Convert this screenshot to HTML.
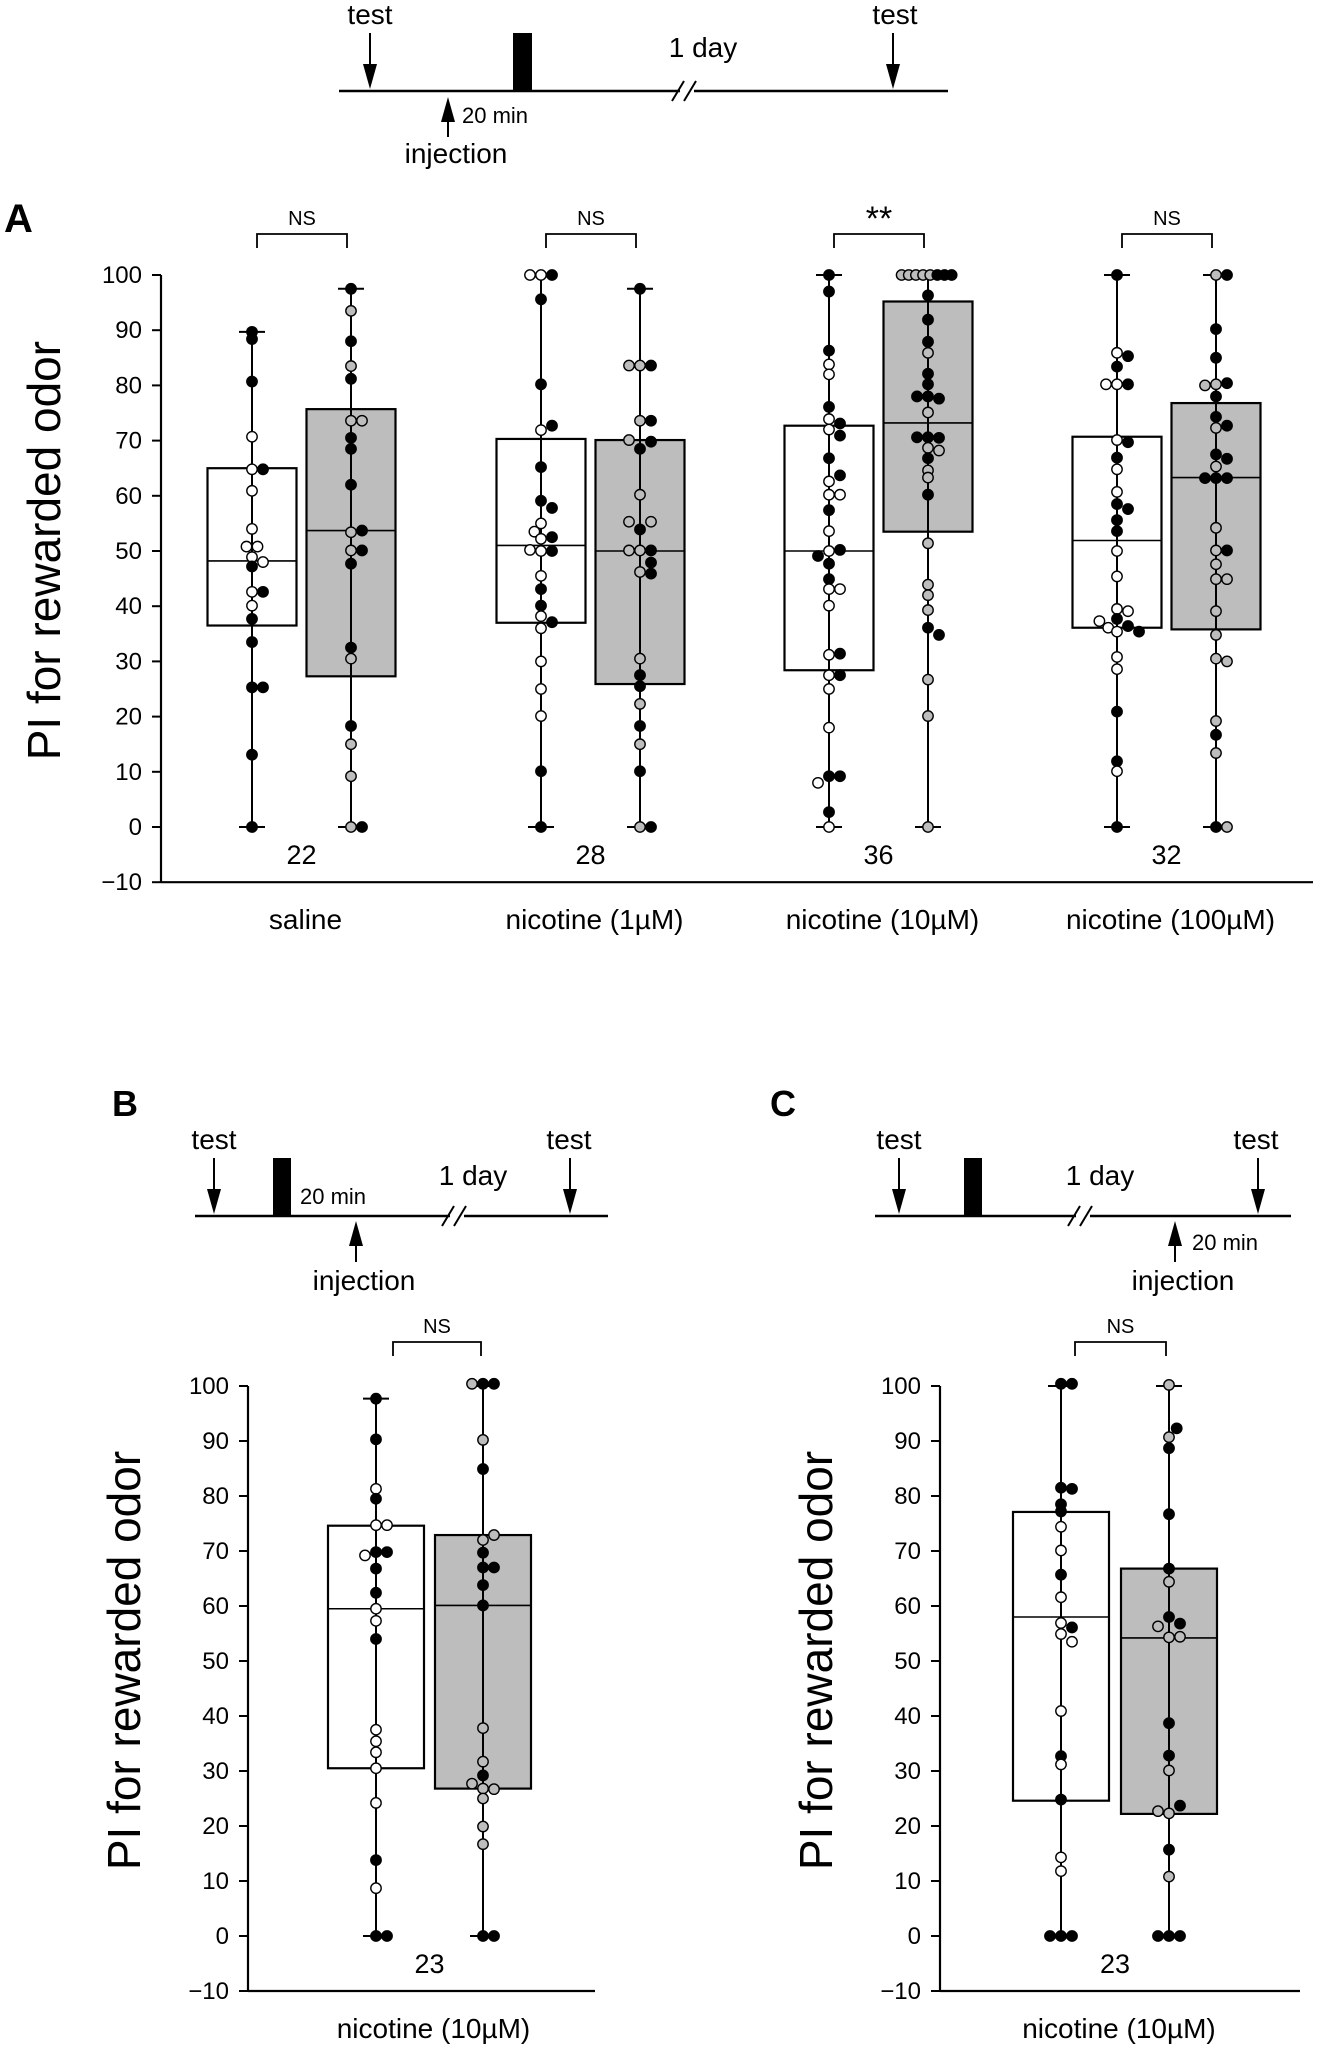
<!DOCTYPE html>
<html><head><meta charset="utf-8">
<style>
html,body{margin:0;padding:0;background:#fff;}
svg{display:block;font-family:"Liberation Sans",Arial,sans-serif;}
</style></head>
<body>
<svg id="fig" width="1336" height="2051" viewBox="0 0 1336 2051" xmlns="http://www.w3.org/2000/svg">
<!-- Top timeline (panel A protocol) -->
<g stroke="#000" fill="#000">
<line x1="339" y1="91" x2="948" y2="91" stroke-width="2.5"/>
<rect x="513" y="33" width="19" height="58" stroke="none"/>
<line x1="370" y1="33" x2="370" y2="70" stroke-width="2"/>
<polygon points="363,64 377,64 370,89" stroke="none"/>
<line x1="893" y1="33" x2="893" y2="70" stroke-width="2"/>
<polygon points="886,64 900,64 893,89" stroke="none"/>
<line x1="448" y1="118" x2="448" y2="137" stroke-width="2"/>
<polygon points="441,122 455,122 448,97" stroke="none"/>
<rect x="680" y="82" width="14" height="18" fill="#fff" stroke="none"/>
<line x1="672" y1="101" x2="684" y2="81" stroke-width="2"/>
<line x1="684" y1="101" x2="696" y2="81" stroke-width="2"/>
</g>
<text x="370" y="24" font-size="28" text-anchor="middle">test</text>
<text x="895" y="24" font-size="28" text-anchor="middle">test</text>
<text x="703" y="57" font-size="28" text-anchor="middle">1 day</text>
<text x="462" y="123" font-size="22">20 min</text>
<text x="456" y="163" font-size="28" text-anchor="middle">injection</text>

<text x="4" y="232" font-size="40" font-weight="bold">A</text>

<!-- Panel B timeline -->
<text x="112" y="1116" font-size="36" font-weight="bold">B</text>
<g stroke="#000" fill="#000">
<g transform="translate(0,-10)">
<line x1="195" y1="1226" x2="608" y2="1226" stroke-width="2.5"/>
<rect x="273" y="1168" width="18" height="58" stroke="none"/>
<line x1="214" y1="1168" x2="214" y2="1205" stroke-width="2"/>
<polygon points="207,1199 221,1199 214,1224" stroke="none"/>
<line x1="570" y1="1168" x2="570" y2="1205" stroke-width="2"/>
<polygon points="563,1199 577,1199 570,1224" stroke="none"/>
<line x1="356" y1="1252" x2="356" y2="1272" stroke-width="2"/>
<polygon points="349,1256 363,1256 356,1231" stroke="none"/>
<rect x="450" y="1217" width="14" height="18" fill="#fff" stroke="none"/>
<line x1="442" y1="1236" x2="454" y2="1216" stroke-width="2"/>
<line x1="454" y1="1236" x2="466" y2="1216" stroke-width="2"/>
</g>
</g>
<g transform="translate(0,-10)">
<text x="214" y="1159" font-size="28" text-anchor="middle">test</text>
<text x="569" y="1159" font-size="28" text-anchor="middle">test</text>
<text x="473" y="1195" font-size="28" text-anchor="middle">1 day</text>
<text x="300" y="1214" font-size="22">20 min</text>
<text x="364" y="1300" font-size="28" text-anchor="middle">injection</text>
</g>

<!-- Panel C timeline -->
<text x="770" y="1116" font-size="36" font-weight="bold">C</text>
<g transform="translate(-9,-10)">
<g stroke="#000" fill="#000">
<line x1="884" y1="1226" x2="1300" y2="1226" stroke-width="2.5"/>
<rect x="973" y="1168" width="18" height="58" stroke="none"/>
<line x1="908" y1="1168" x2="908" y2="1205" stroke-width="2"/>
<polygon points="901,1199 915,1199 908,1224" stroke="none"/>
<line x1="1267" y1="1168" x2="1267" y2="1205" stroke-width="2"/>
<polygon points="1260,1199 1274,1199 1267,1224" stroke="none"/>
<line x1="1184" y1="1252" x2="1184" y2="1272" stroke-width="2"/>
<polygon points="1177,1256 1191,1256 1184,1231" stroke="none"/>
<rect x="1085" y="1217" width="14" height="18" fill="#fff" stroke="none"/>
<line x1="1077" y1="1236" x2="1089" y2="1216" stroke-width="2"/>
<line x1="1089" y1="1236" x2="1101" y2="1216" stroke-width="2"/>
</g>
<text x="908" y="1159" font-size="28" text-anchor="middle">test</text>
<text x="1265" y="1159" font-size="28" text-anchor="middle">test</text>
<text x="1109" y="1195" font-size="28" text-anchor="middle">1 day</text>
<text x="1201" y="1260" font-size="22">20 min</text>
<text x="1192" y="1300" font-size="28" text-anchor="middle">injection</text>
</g>

<g id="charts"></g>
</svg>
<script>
// ---- data ----
const yTicks = [100,90,80,70,60,50,40,30,20,10,0,-10];
const tickLabels = ["100","90","80","70","60","50","40","30","20","10","0","\u221210"];
const catA = ["saline","nicotine (1\u00b5M)","nicotine (10\u00b5M)","nicotine (100\u00b5M)"];
const catB = ["nicotine (10\u00b5M)"];
const catC = ["nicotine (10\u00b5M)"];
const nA = ["22","28","36","32"];
const nB = ["23"];
const nC = ["23"];
const sigA = ["NS","NS","**","NS"];
const sigB = ["NS"];
const sigC = ["NS"];
// boxes: A-saline(w,g), A-1uM(w,g), A-10uM(w,g), A-100uM(w,g), B(w,g), C(w,g)
const boxLow  = [0,0,0,0,0,0,0,0,0,0,0,0];
const boxHigh = [89.7,97.5,100,97.5,100,100,100,100,97.7,100,100,100];
const boxQ1   = [36.5,27.3,37,25.9,28.4,53.5,36.1,35.8,30.5,26.8,24.6,22.2];
const boxMed  = [48.2,53.7,51,50,50,73.2,51.9,63.3,59.5,60.1,58,54.2];
const boxQ3   = [65,75.7,70.3,70.1,72.7,95.2,70.7,76.8,74.6,72.9,77.1,66.8];
const vals0 = [89.7,88.4,80.7,70.7,64.8,64.8,60.9,54,50.8,50.8,48.9,48,47.2,42.6,42.6,40.1,37.7,33.5,25.3,25.3,13.1,0];
const cols0 = "bbbwwbwwwwwwbwbwbbbbbb";
const dodg0 = [0,0,0,0,0,1,0,0,-0.5,0.5,0,1,0,0,1,0,0,0,0,1,0,0];
const vals1 = [97.5,93.5,88,83.5,81.2,73.6,73.6,70.5,68.5,62,53.4,53.7,50.1,50.1,47.7,32.5,30.5,18.3,15,9.2,0,0];
const cols1 = "bgbgbggbbbgbgbbbgbgggb";
const dodg1 = [0,0,0,0,0,0,1,0,0,0,0,1,0,1,0,0,0,0,0,0,0,1];
const vals2 = [100,100,100,95.6,80.2,71.9,72.7,65.2,59.1,57.8,55,53.5,52.5,52.2,50.2,50,50,45.5,43.1,40.1,38.2,37.1,36,30,25,20.1,10.1,0];
const cols2 = "wwbbbwbbbbwwbwwwbwbbwbwwwwbb";
const dodg2 = [-1,0,1,0,0,0,1,0,0,1,0,-0.6,1,0,-1,0,1,0,0,0,0,1,0,0,0,0,0,0];
const vals3 = [97.5,83.6,83.6,83.6,73.6,73.6,70.1,69.8,68.5,60.2,55.3,55.3,53.9,50.1,50.1,50.1,47.9,46.2,45.9,30.5,27.5,25.5,22.3,18.3,15,10.1,0,0];
const cols3 = "bggbgbgbbgggbggbbgbgbbgbgbgb";
const dodg3 = [0,-1,0,1,0,1,-1,1,0,0,-1,1,0,-1,0,1,1,0,1,0,0,0,0,0,0,0,0,1];
const vals4 = [100,97,86.3,83.8,82,76.1,73.9,73.1,72,70.9,66.8,63.7,62.6,60.2,60.2,57.4,53.6,50.2,50,49.1,47.7,44.9,43.1,43.1,40.1,31.2,31.4,27.5,27.5,25,18,9.2,9.2,8,2.7,0];
const cols4 = "bbbwwbwbwbbbwwwbwbwbbbwwwwbwbwwbbwbw";
const dodg4 = [0,0,0,0,0,0,0,1,0,1,0,1,0,0,1,0,0,1,0,-1,0,0,0,1,0,0,1,0,1,0,0,0,1,-1,0,0];
const vals5 = [100,100,100,100,100,100,100,100,96.3,91.9,87.9,85.9,82.1,80.2,78,78,77.6,75.1,70.6,70.6,70.5,68.7,68.2,66.8,64.6,63.3,60.2,51.4,43.9,42,39.3,36.1,34.8,26.7,20.1,0];
const cols5 = "gggggbbbbbbgbbbbbgbbbggbggbggggbbggg";
const dodg5 = [-2.4,-1.75,-1.1,-0.45,0.2,0.85,1.5,2.15,0,0,0,0,0,0,-1,0,1,0,-1,0,1,0,1,0,0,0,0,0,0,0,0,0,1,0,0,0];
const vals6 = [100,85.9,85.3,83.4,80.2,80.2,80.2,70.1,69.7,66.9,64.8,60.7,58.5,57.6,55.6,53.6,50,45.4,39.5,39.1,37.3,37.7,36.1,36.4,35.4,35.4,30.8,28.6,20.9,11.9,10.1,0];
const cols6 = "bwbbwwbwbbwwbbbbwwwwwbwbwbwwbbwb";
const dodg6 = [0,0,1,0,-1,0,1,0,1,0,0,0,0,1,0,0,0,0,0,1,-1.6,0,-0.8,1,0,2,0,0,0,0,0,0];
const vals7 = [100,100,90.2,85,80,80.2,80.4,78,74.3,72.3,72.7,67.5,66.7,65.3,63.2,63.2,63.2,54.2,50.1,50.1,47.6,44.9,44.9,39.1,34.8,30.5,30,19.2,16.7,13.4,0,0];
const cols7 = "gbbbggbbbgbbbgbbbggbggggggggbgbg";
const dodg7 = [0,1,0,0,-1,0,1,0,0,0,1,0,1,0,-1,0,1,0,0,1,0,0,1,0,0,0,1,0,0,0,0,1];
const vals8 = [97.7,90.3,81.3,79.5,74.7,74.7,69.8,69.8,69.2,66.8,62.4,59.5,57.3,54,37.5,35.4,33.4,30.5,24.2,13.8,8.7,0,0];
const cols8 = "bbwbwwbbwbbwwbwwwwwbwbb";
const dodg8 = [0,0,0,0,0,1,0,1,-1,0,0,0,0,0,0,0,0,0,0,0,0,0,1];
const vals9 = [100.4,100.4,100.4,90.2,84.9,72,72.9,69.7,67,67,63.8,60.1,37.8,31.7,29.2,27.7,26.8,26.7,25,19.9,16.7,0,0];
const cols9 = "gbbgbggbbbbbggbggggggbb";
const dodg9 = [-1,0,1,0,0,0,1,0,0,1,0,0,0,0,0,-1,0,1,0,0,0,0,1];
const vals10 = [100.4,100.4,81.5,81.3,78.5,77.2,74.4,70.1,65.7,61.6,56.9,56.1,54.9,53.5,40.9,32.7,31.2,24.8,14.3,11.8,0,0,0];
const cols10 = "bbbbbbwwbwwbwwwbwbwwbbb";
const dodg10 = [0,1,0,1,0,0,0,0,0,0,0,1,0,1,0,0,0,0,0,0,-1,0,1];
const vals11 = [100.2,92.3,90.7,88.7,76.7,66.8,64.4,58,56.8,56.3,54.3,54.4,38.7,32.8,30.1,23.7,22.7,22.3,15.7,10.8,0,0,0];
const cols11 = "gbgbbbgbbgggbbgbggbgbbb";
const dodg11 = [0,0.7,0,0,0,0,0,0,1,-1,0,1,0,0,0,1,-1,0,0,0,-1,0,1];

// ---- layout (not data) ----
const allVals = [vals0,vals1,vals2,vals3,vals4,vals5,vals6,vals7,vals8,vals9,vals10,vals11];
const allCols = [cols0,cols1,cols2,cols3,cols4,cols5,cols6,cols7,cols8,cols9,cols10,cols11];
const allDodg = [dodg0,dodg1,dodg2,dodg3,dodg4,dodg5,dodg6,dodg7,dodg8,dodg9,dodg10,dodg11];
const panels = [
  {id:'a', axisX:161, y0:827, unit:5.52, xEnd:1313, titleX:44, cats:catA, ns:nA, sig:sigA, centers:[252,541,829,1117], half:44.5, bl:5, br:-4},
  {id:'b', axisX:248, y0:1936, unit:5.5, xEnd:595, titleX:124, cats:catB, ns:nB, sig:sigB, centers:[376], half:48, bl:17, br:-2},
  {id:'c', axisX:940, y0:1936, unit:5.5, xEnd:1300, titleX:816, cats:catC, ns:nC, sig:sigC, centers:[1061], half:48, bl:14, br:-3}
];
const gap = [99,107,108];
const NS = 'http://www.w3.org/2000/svg';
const root = document.getElementById('charts');
function mk(tag, attrs, parent){ const e=document.createElementNS(NS,tag); for(const k in attrs) e.setAttribute(k,attrs[k]); (parent||root).appendChild(e); return e; }
const fills = {b:'#000', w:'#fff', g:'#bdbdbd'};
let boxIdx = 0;
panels.forEach((p, pi) => {
  const y = v => p.y0 - v * p.unit;
  const g = mk('g', {});
  
  
  const ax = mk('line', {x1:p.axisX, y1:y(100), x2:p.axisX, y2:y(-10), stroke:'#000','stroke-width':2.2}, g);
  
  
  const bx = mk('line', {x1:p.axisX, y1:y(-10), x2:p.xEnd, y2:y(-10), stroke:'#000','stroke-width':2.2}, g);
  
  
  yTicks.forEach((t, i) => {
    mk('line', {x1:p.axisX-9, y1:y(t), x2:p.axisX, y2:y(t), stroke:'#000','stroke-width':2}, g);
    const tl = mk('text', {x:p.axisX-19, y:y(t)+8, 'font-size':24, 'text-anchor':'end'}, g);
    tl.textContent = tickLabels[i];
    
    
  });
  const cy = (y(100)+y(-10))/2 - 28;
  const tt = mk('text', {x:p.titleX, y:cy, 'font-size':46, 'text-anchor':'middle', transform:'rotate(-90 '+p.titleX+' '+cy+')', dy:'16'}, g);
  tt.textContent = 'PI for rewarded odor';
  
  
  p.centers.forEach((cw, ci) => {
    const cg = cw + gap[pi];
    [cw, cg].forEach((cx, k) => {
      const b = boxIdx++;
      const bg = mk('g', {}, g);
      
      
      mk('line', {x1:cx, y1:y(boxHigh[b]), x2:cx, y2:y(boxLow[b]), stroke:'#000','stroke-width':2}, bg);
      mk('line', {x1:cx-13, y1:y(boxHigh[b]), x2:cx+13, y2:y(boxHigh[b]), stroke:'#000','stroke-width':2}, bg);
      mk('line', {x1:cx-13, y1:y(boxLow[b]), x2:cx+13, y2:y(boxLow[b]), stroke:'#000','stroke-width':2}, bg);
      mk('rect', {x:cx-p.half, y:y(boxQ3[b]), width:2*p.half, height:y(boxQ1[b])-y(boxQ3[b]), fill:k?'#bdbdbd':'#fff', stroke:'#000','stroke-width':2.2}, bg);
      mk('line', {x1:cx-p.half, y1:y(boxMed[b]), x2:cx+p.half, y2:y(boxMed[b]), stroke:'#000','stroke-width':1.6}, bg);
      mk('line', {x1:cx, y1:y(boxQ3[b]), x2:cx, y2:y(boxQ1[b]), stroke:'#000','stroke-width':2}, bg);
      allVals[b].forEach((v, j) => {
        const c = mk('circle', {cx:cx + (allDodg[b][j]||0)*11, cy:y(v), r:5.2, fill:fills[allCols[b][j]]||'#000', stroke:'#000','stroke-width':1.4}, bg);
        
        
      });
    });
    const mid = (cw + cg)/2;
    const lab = mk('text', {x:mid+4, y:y(-10)+47, 'font-size':28, 'text-anchor':'middle'}, g);
    lab.textContent = p.cats[ci];
    
    
    const nl = mk('text', {x:mid, y:y(0)+37, 'font-size':27, 'text-anchor':'middle'}, g);
    nl.textContent = p.ns[ci];
    
    
    const by = p.id==='a' ? 234 : 1342;
    const br = mk('path', {d:'M'+(cw+p.bl)+' '+(by+14)+' V'+by+' H'+(cg+p.br)+' V'+(by+14), fill:'none', stroke:'#000','stroke-width':1.8}, g);
    
    
    const s = p.sig[ci];
    const bm = (cw+p.bl+cg+p.br)/2;
    const st = mk('text', {x:bm, y: s==='**' ? by-4 : by-9, 'font-size': s==='**' ? 34 : 20, 'text-anchor':'middle'}, g);
    st.textContent = s;
    
    
  });
});
</script>
</body></html>
